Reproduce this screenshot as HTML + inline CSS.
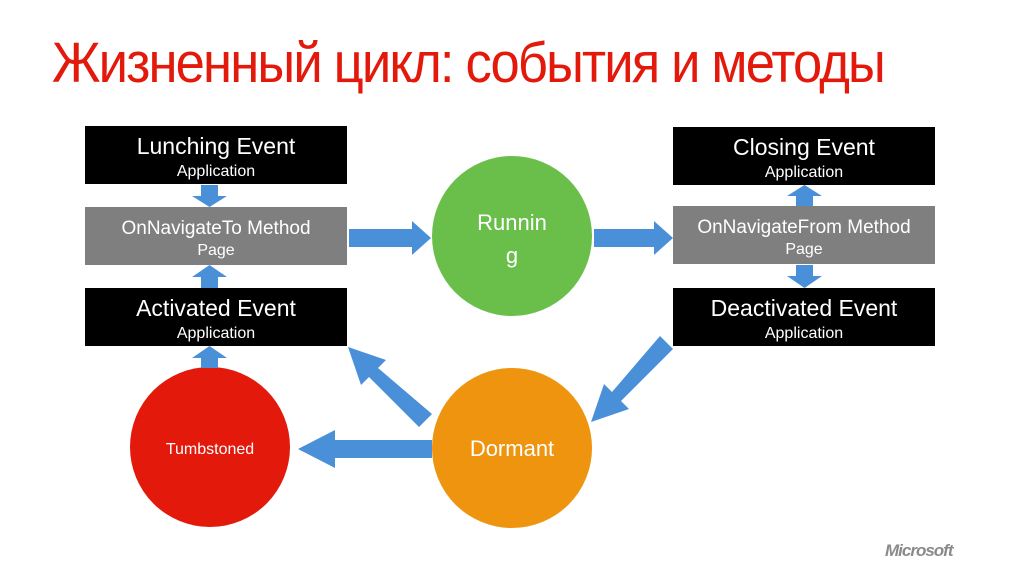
<!DOCTYPE html>
<html><head><meta charset="utf-8"><style>
body{margin:0;width:1024px;height:576px;background:#fff;overflow:hidden;font-family:"Liberation Sans",sans-serif}
</style></head><body>
<svg width="1024" height="576" xmlns="http://www.w3.org/2000/svg" font-family="Liberation Sans, sans-serif">
<text x="52" y="82" font-size="57" fill="#e2190b" textLength="832" lengthAdjust="spacingAndGlyphs" letter-spacing="-2">Жизненный цикл: события и методы</text>
<g fill="#000"><rect x="85" y="126" width="262" height="58"/><rect x="85" y="288" width="262" height="58"/>
<rect x="673" y="127" width="262" height="58"/><rect x="673" y="288" width="262" height="58"/></g>
<g fill="#7f7f7f"><rect x="85" y="207" width="262" height="58"/><rect x="673" y="206" width="262" height="58"/></g>
<g fill="#fff" text-anchor="middle">
<text x="216" y="154" font-size="23">Lunching Event</text><text x="216" y="176" font-size="16">Application</text>
<text x="216" y="234" font-size="19">OnNavigateTo Method</text><text x="216" y="255" font-size="16">Page</text>
<text x="216" y="316" font-size="23">Activated Event</text><text x="216" y="338" font-size="16">Application</text>
<text x="804" y="155" font-size="23">Closing Event</text><text x="804" y="177" font-size="16">Application</text>
<text x="804" y="233" font-size="19">OnNavigateFrom Method</text><text x="804" y="254" font-size="16">Page</text>
<text x="804" y="316" font-size="23">Deactivated Event</text><text x="804" y="338" font-size="16">Application</text>
</g>
<circle cx="512" cy="236" r="80" fill="#6abf4b"/>
<circle cx="512" cy="448" r="80" fill="#ef940e"/>
<circle cx="210" cy="447" r="80" fill="#e2190b"/>
<g fill="#fff" text-anchor="middle">
<text x="512" y="230" font-size="22">Runnin</text><text x="512" y="263" font-size="22">g</text>
<text x="512" y="456" font-size="22">Dormant</text>
<text x="210" y="454" font-size="16">Tumbstoned</text>
</g>
<g fill="#4a90d9">
<polygon points="201,185 218,185 218,196 227,196 209.5,207 192,196 201,196"/>
<polygon points="201,288 218,288 218,277 227,277 209.5,265 192,277 201,277"/>
<polygon points="201,368 218,368 218,358 227,358 209.5,346 192,358 201,358"/>
<polygon points="796,206 813,206 813,196 822,196 804.5,185 787,196 796,196"/>
<polygon points="796,265 813,265 813,276 822,276 804.5,288 787,276 796,276"/>
<polygon points="349,229 412,229 412,221 431,238 412,255 412,247 349,247"/>
<polygon points="594,229 654,229 654,221 673,238 654,255 654,247 594,247"/>
<polygon points="432,440 335,440 335,430 298,449 335,468 335,458 432,458"/>
<polygon points="432,414 419,427 369,377 361,385 348,347 386,360 378,368"/>
<polygon points="660,336 673,349 621,401 629,409 591,422 604,384 612,392"/>
</g>
<text x="885" y="556" font-size="17" font-weight="bold" font-style="italic" fill="#8a8a8a" letter-spacing="-1">Microsoft</text>
</svg>
</body></html>
